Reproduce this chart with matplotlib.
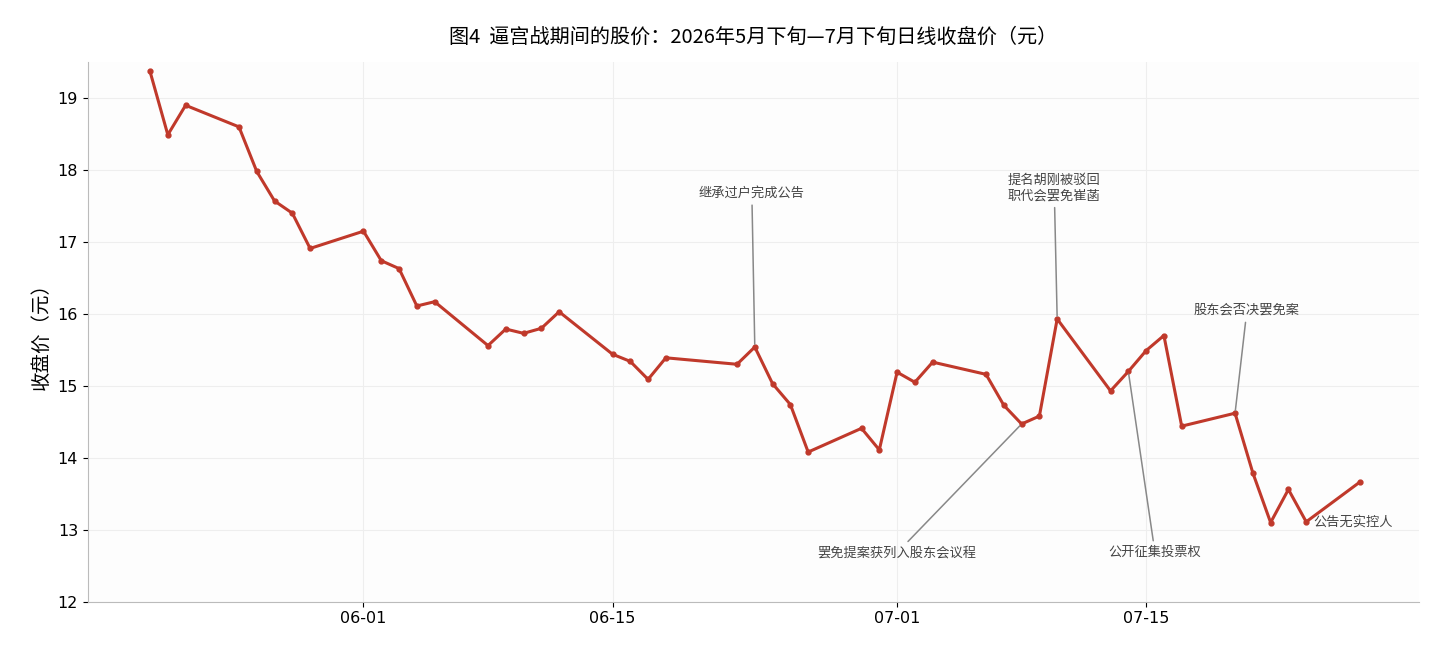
import matplotlib
matplotlib.use("Agg")
import matplotlib.pyplot as plt
import matplotlib.dates as mdates
import pandas as pd

plt.rcParams['font.family'] = ['Noto Sans CJK SC', 'DejaVu Sans']

dates = ["05-20", "05-21", "05-22", "05-25", "05-26", "05-27", "05-28", "05-29",
         "06-01", "06-02", "06-03", "06-04", "06-05", "06-08", "06-09", "06-10",
         "06-11", "06-12", "06-15", "06-16", "06-17", "06-18", "06-22", "06-23",
         "06-24", "06-25", "06-26", "06-29", "06-30", "07-01", "07-02", "07-03",
         "07-06", "07-07", "07-08", "07-09", "07-10", "07-13", "07-14", "07-15",
         "07-16", "07-17", "07-20", "07-21", "07-22", "07-23", "07-24", "07-27"]
closes = [19.37, 18.49, 18.90, 18.60, 17.98, 17.57, 17.40, 16.91,
          17.15, 16.74, 16.63, 16.11, 16.17, 15.56, 15.79, 15.73,
          15.80, 16.03, 15.44, 15.34, 15.09, 15.39, 15.30, 15.54,
          15.03, 14.74, 14.08, 14.41, 14.11, 15.19, 15.05, 15.33,
          15.16, 14.73, 14.47, 14.58, 15.93, 14.93, 15.20, 15.49,
          15.70, 14.44, 14.62, 13.79, 13.10, 13.56, 13.11, 13.66]

# 事件标注: (点的日期, 文字位置日期 小时, 文字y, 文字, 是否画线, 对齐)
events = [
    ("06-23", "06-22 20", 17.68, "继承过户完成公告", True, "center"),
    ("07-10", "07-09 20", 17.75, "提名胡刚被驳回\n职代会罢免崔菡", True, "center"),
    ("07-20", "07-20 16", 16.05, "股东会否决罢免案", True, "center"),
    ("07-08", "07-01 00", 12.68, "罢免提案获列入股东会议程", True, "center"),
    ("07-14", "07-15 12", 12.68, "公开征集投票权", True, "center"),
    ("07-24", "07-24 10", 13.10, "公告无实控人", False, "left"),
]

x = pd.to_datetime(["2026-" + d for d in dates])
price = dict(zip(dates, closes))

fig, ax = plt.subplots(figsize=(14.39, 6.54), dpi=100)
fig.patch.set_facecolor("white")
ax.set_facecolor("#fdfdfd")
ax.plot(x, closes, color="#c0392b", lw=2.2, marker="o", ms=3.5, zorder=3)

for d, td, ty, txt, line, ha in events:
    xp = pd.Timestamp("2026-" + d)
    xt = pd.Timestamp("2026-" + td[:5]) + pd.Timedelta(hours=int(td[6:]))
    if line:
        ax.annotate(txt, xy=(xp, price[d]), xytext=(xt, ty), ha=ha, va="center",
                    fontsize=9.5, color="#444444",
                    arrowprops=dict(arrowstyle="-", color="#888888", lw=1.1))
    else:
        ax.text(xt, ty, txt, ha=ha, va="center", fontsize=9.5, color="#444444")

ax.set_xlim(pd.Timestamp("2026-05-16 12:00"), pd.Timestamp("2026-07-30 08:00"))
ax.set_ylim(12, 19.5)
ax.set_xticks(pd.to_datetime(["2026-06-01", "2026-06-15", "2026-07-01", "2026-07-15"]))
ax.xaxis.set_major_formatter(mdates.DateFormatter("%m-%d"))
ax.tick_params(labelsize=11.5)
for lab in ax.get_xticklabels() + ax.get_yticklabels():
    lab.set_fontfamily("DejaVu Sans")
ax.grid(True, color="#eeeeee", lw=0.8)
for s in ["top", "right"]:
    ax.spines[s].set_visible(False)
for s in ["left", "bottom"]:
    ax.spines[s].set_color("#bbbbbb")
ax.set_ylabel("收盘价（元）", fontsize=14)
ax.set_title("图4  逼宫战期间的股价：2026年5月下旬—7月下旬日线收盘价（元）", fontsize=14.5, pad=14)

plt.subplots_adjust(left=0.061, right=0.986, top=0.905, bottom=0.08)
fig.savefig("out.png", dpi=100)
